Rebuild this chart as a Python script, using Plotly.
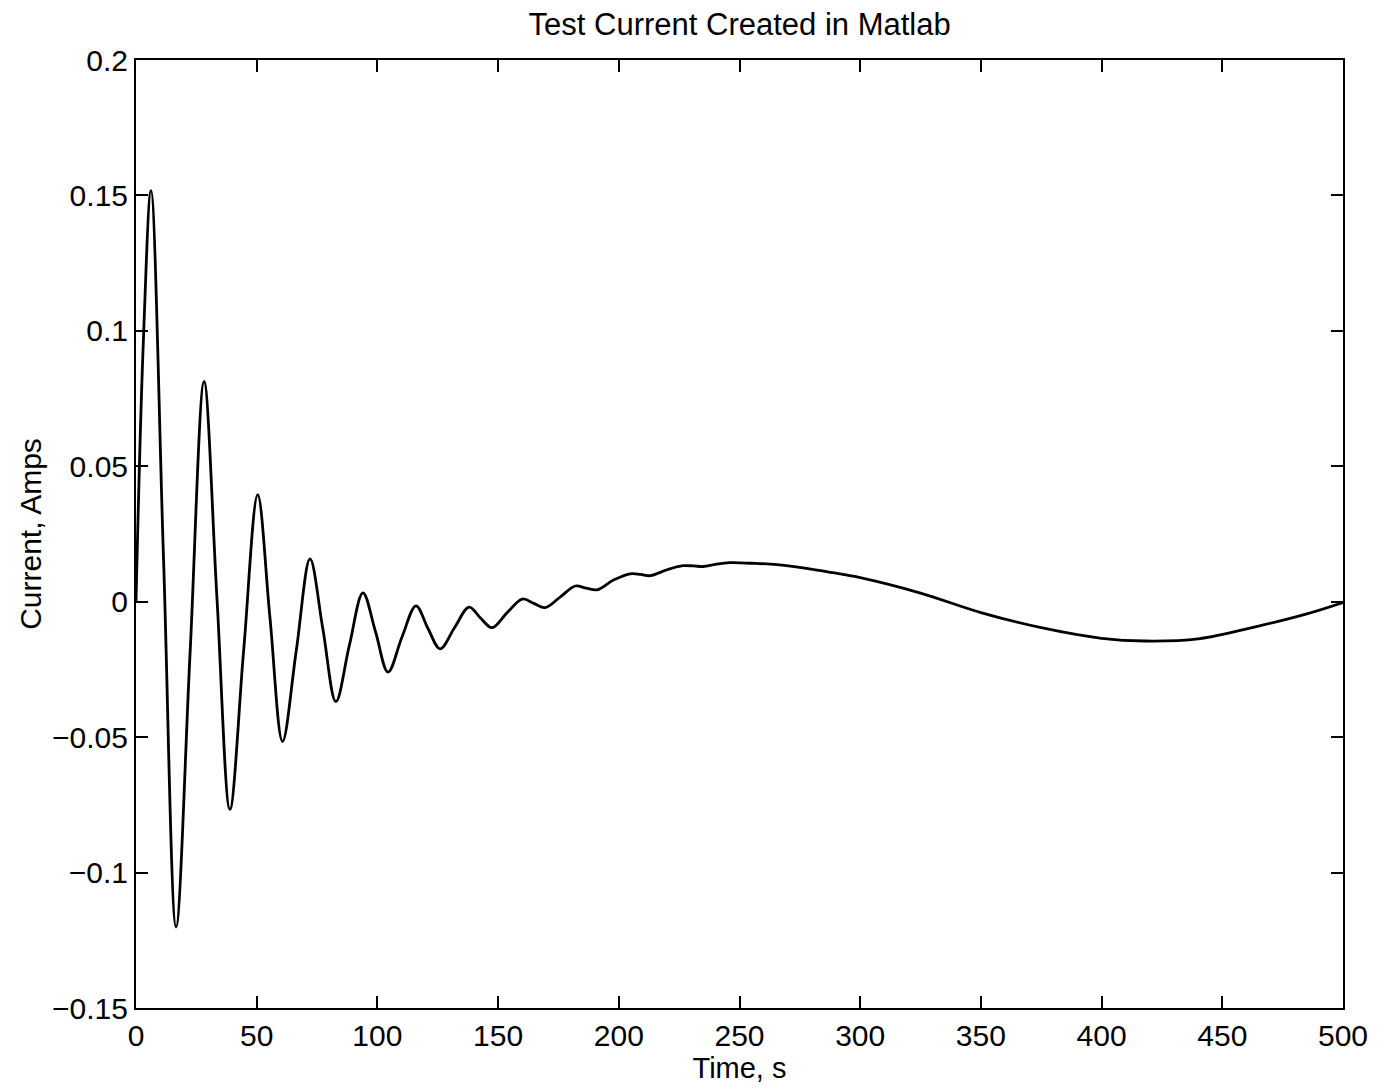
import plotly.graph_objects as go

# Sampled test current: time (s) and current (A)
time_s = [0, 3.0, 6.2, 11.4, 16.6, 22.4, 28.2, 33.5, 38.9, 44.6, 50.4, 55.5,
          60.7, 66.4, 72.1, 77.4, 82.8, 88.4, 94.0, 99.2, 104.4, 110.2, 116.0,
          121.0, 126.0, 132.0, 138.0, 142.7, 147.5, 153.8, 160.0, 164.8, 169.5,
          175.8, 182.0, 186.5, 191.0, 197.8, 204.6, 209.0, 213.0, 220.0, 226.6,
          231.0, 235.0, 240.0, 246.0, 255.0, 265.5, 277.0, 288.7, 300.0, 325.0,
          350.0, 375.0, 400.0, 418.0, 440.0, 465.0, 485.0, 500.0]
current_a = [0.0, 0.095, 0.1518, 0.016, -0.1201, -0.019, 0.0813, 0.002, -0.0767,
             -0.018, 0.0395, -0.006, -0.0516, -0.018, 0.0158, -0.010, -0.0369,
             -0.016, 0.0033, -0.011, -0.026, -0.013, -0.0015, -0.010, -0.0174,
             -0.0095, -0.002, -0.006, -0.0096, -0.004, 0.001, -0.0006, -0.0022,
             0.0018, 0.0058, 0.0050, 0.0044, 0.008, 0.0103, 0.0101, 0.0096,
             0.0118, 0.0133, 0.0132, 0.0130, 0.0138, 0.0144, 0.0142, 0.0137,
             0.0124, 0.0107, 0.0089, 0.0032, -0.0040, -0.0096, -0.0135, -0.0145,
             -0.0137, -0.0090, -0.0045, -0.0003]

x_ticks = [0, 50, 100, 150, 200, 250, 300, 350, 400, 450, 500]
y_ticks = [-0.15, -0.1, -0.05, 0, 0.05, 0.1, 0.15, 0.2]
y_tick_text = ["\u22120.15", "\u22120.1", "\u22120.05", "0", "0.05", "0.1", "0.15", "0.2"]

FONT = "Liberation Sans, Arial, Helvetica, sans-serif"

fig = go.Figure()
fig.add_trace(go.Scatter(
    x=time_s, y=current_a, mode="lines",
    line=dict(color="black", width=2.8, shape="spline", smoothing=1.0),
    showlegend=False, hoverinfo="skip",
))

axis_common = dict(
    showgrid=False, zeroline=False,
    showline=True, linecolor="black", linewidth=2, mirror="ticks",
    ticks="inside", ticklen=12, tickwidth=2, tickcolor="black",
    tickfont=dict(family=FONT, size=30, color="black"),
)

fig.update_layout(
    width=1387, height=1090,
    margin=dict(l=136, r=44, t=60, b=82),
    paper_bgcolor="white", plot_bgcolor="white",
    title=dict(text="Test Current Created in Matlab", x=0.5333, xanchor="center",
               y=0.978, yanchor="middle",
               font=dict(family=FONT, size=31, color="black")),
    xaxis=dict(range=[0, 500], tickvals=x_ticks,
               title=dict(text="Time, s", standoff=0,
                          font=dict(family=FONT, size=29, color="black")),
               **axis_common),
    yaxis=dict(range=[-0.15, 0.2], tickvals=y_ticks, ticktext=y_tick_text,
               title=dict(text="Current, Amps", standoff=2,
                          font=dict(family=FONT, size=30, color="black")),
               **axis_common),
)

fig.write_html("out.html")
